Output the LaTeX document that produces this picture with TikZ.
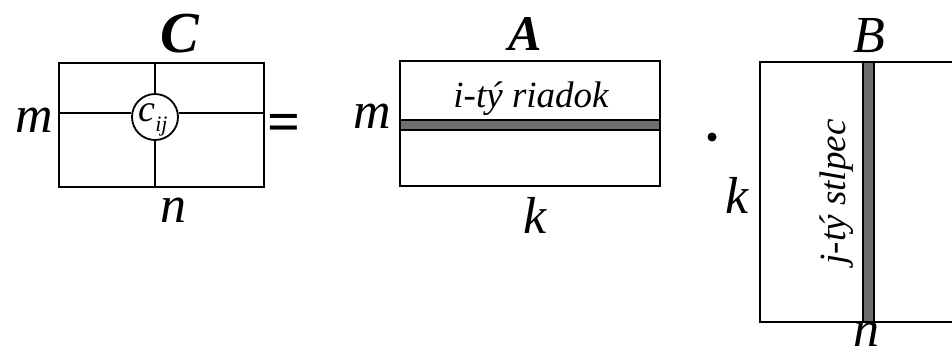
\documentclass[tikz,border=0pt]{standalone}
\usepackage{fontspec}
\setmainfont{Liberation Serif}
\begin{document}
\begin{tikzpicture}[x=1pt,y=-1pt,
  frame/.style={draw=black,line width=1.8pt},
  bar/.style={draw=black,fill=black!57,line width=1.4pt},
  lbl/.style={anchor=base,inner sep=0pt,font=\fontsize{52}{60}\selectfont\itshape},
  inner/.style={anchor=base,inner sep=0pt,font=\fontsize{37}{42}\selectfont\itshape}]
\useasboundingbox (0,0) rectangle (952,357);
\clip (0,0) rectangle (952,357);
% matrix C
\draw[frame] (59,63) rectangle (264,187);
\node[circle,draw=black,line width=1.8pt,minimum size=46pt,inner sep=0pt] (cij) at (155,117) {};
\node[anchor=base,inner sep=0pt,font=\fontsize{38}{42}\selectfont\itshape] (ctext) at (153,121) {c\raisebox{-10pt}{\fontsize{22}{24}\selectfont\itshape ij}};
\coordinate (ctop) at (155,63);
\coordinate (cbot) at (155,187);
\coordinate (cleft) at (59,113);
\coordinate (cright) at (264,113);
\draw[line width=1.8pt] (ctop) -- (cij.north);
\draw[line width=1.8pt] (cij.south) -- (cbot);
\draw[line width=1.8pt] (cleft) -- (cleft -| cij.west);
\draw[line width=1.8pt] (cright -| cij.east) -- (cright);
\node[anchor=base,inner sep=0pt,font=\fontsize{58}{64}\selectfont\bfseries\itshape] (C) at (180,52) {C};
\node[lbl] (mC) at (34,132) {m};
\node[lbl] (nC) at (173,222) {n};
% equals
\node[anchor=base,inner sep=0pt,font=\fontsize{58}{64}\selectfont\bfseries] (eq) at (284,141) {=};
% matrix A
\draw[frame] (400,61) rectangle (660,186);
\draw[bar] (400,120) rectangle (660,130);
\node[anchor=base,inner sep=0pt,font=\fontsize{50}{56}\selectfont\bfseries\itshape] (A) at (525,50) {A};
\node[inner] (row) at (531,107) {i-tý riadok};
\node[lbl] (mA) at (372,128) {m};
\node[lbl] (kA) at (535,233) {k};
% dot
\fill (712,137) circle (4.5pt) node (dot) {};
% matrix B
\draw[frame] (760,62) rectangle (980,322);
\draw[bar] (863,62) rectangle (874,322);
\node[lbl] (B) at (869,52) {B};
\node[inner,rotate=90] (col) at (845,192) {j-tý stlpec};
\node[lbl] (kB) at (737,213) {k};
\node[lbl] (nB) at (866,346) {n};
\end{tikzpicture}
\end{document}
